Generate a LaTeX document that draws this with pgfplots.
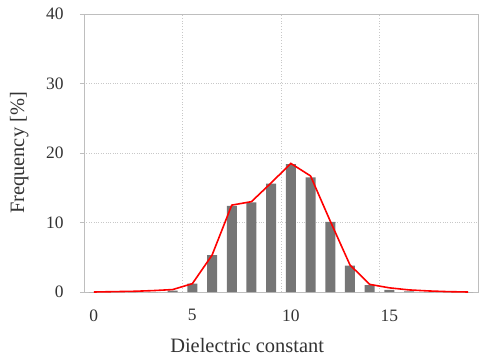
\documentclass[border=0pt]{standalone}
\usepackage{pgfplots}
\pgfplotsset{compat=1.18}
\usepackage{fontspec}
\setmainfont{Liberation Serif}

% Frequency distribution of the dielectric constant (bins 0..19)
\pgfplotstableread{
x  bar   line
0  0     0
1  0     0.05
2  0     0.1
3  0     0.2
4  0.2   0.35
5  1.2   1.2
6  5.3   5.3
7  12.4  12.5
8  12.9  13.0
9  15.6  15.7
10 18.4  18.5
11 16.5  16.7
12 10.1  10.2
13 3.8   3.9
14 1.0   1.1
15 0.3   0.6
16 0.1   0.3
17 0     0.15
18 0     0.05
19 0     0
}\dist

\definecolor{bargray}{RGB}{118,118,118}
\definecolor{axgray}{RGB}{190,190,190}
\definecolor{gridgray}{RGB}{200,200,200}

\begin{document}
\begin{tikzpicture}
\path[use as bounding box] (-84bp,-65bp) rectangle (396bp,292bp);
\begin{axis}[
  scale only axis,
  width=394bp, height=278bp,
  xmin=-0.5, xmax=19.5,
  ymin=0, ymax=40,
  ytick={0,10,20,30,40},
  xtick={0,5,10,15},
  extra x ticks={4.5,9.5,14.5},
  extra x tick labels={},
  extra x tick style={grid=major, major tick length=0pt,
    major grid style={gridgray, dotted, line width=0.8pt}},
  ymajorgrids,
  major grid style={gridgray, dotted, line width=0.8pt},
  axis line style={axgray, line width=1pt},
  every tick/.style={axgray, line width=0.8pt},
  tick align=outside,
  xtick style={draw=none},
  ytick pos=left,
  xtick pos=bottom,
  major tick length=4bp,
  tick label style={font=\fontsize{17.5}{20}\selectfont, text=black!80},
  label style={font=\fontsize{20.5}{24}\selectfont, text=black!80},
  /pgf/number format/assume math mode=true,
  xticklabel style={yshift=-10bp},
  yticklabel style={xshift=-13bp},
  xlabel={Dielectric constant},
  ylabel={Frequency [\%]},
  xlabel style={at={(axis description cs:0.414,0)}, anchor=north, yshift=-43bp},
  ylabel style={at={(axis description cs:0,0.5)}, anchor=south, yshift=52bp},
  clip=false,
]
\addplot[ybar, bar width=10bp, fill=bargray, draw=none, bar shift=0pt]
  table[x=x, y=bar] {\dist};
\addplot[red, line width=1.6pt, mark=none] table[x=x, y=line] {\dist};
\end{axis}
\end{tikzpicture}
\end{document}
